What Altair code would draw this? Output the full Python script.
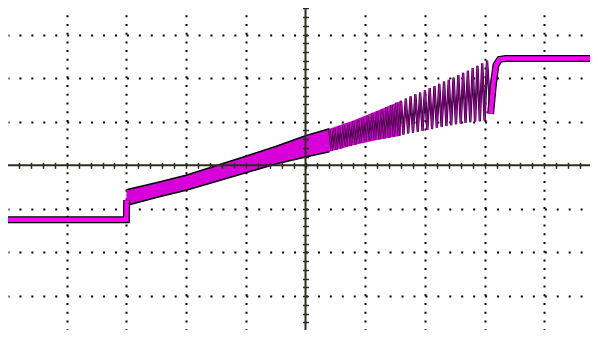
import altair as alt
import pandas as pd

# ---- data: time and amplitude in screen divisions ----
left_t = [-5.0, -3.0, -2.995]
left_v = [-1.25, -1.25, -0.80]

band_t = [-3.0, -2.5, -2.0, -1.5, -1.0, -0.5, 0.0, 0.4, 0.8, 1.2, 1.6]
band_lo = [-0.92, -0.74, -0.57, -0.37, -0.17, 0.03, 0.19, 0.31, 0.46, 0.58, 0.68]
band_hi = [-0.56, -0.40, -0.23, -0.01, 0.21, 0.43, 0.68, 0.84, 1.03, 1.25, 1.48]

ring_t = [0.40, 0.44, 0.48, 0.52, 0.56, 0.60, 0.64, 0.68, 0.72, 0.76, 0.80, 0.84,
          0.88, 0.92, 0.96, 1.00, 1.04, 1.08, 1.12, 1.16, 1.20, 1.24, 1.28, 1.32,
          1.36, 1.40, 1.44, 1.48, 1.52, 1.56, 1.60, 1.64, 1.68, 1.72, 1.76, 1.80,
          1.84, 1.88, 1.92, 1.96, 2.00, 2.04, 2.08, 2.12, 2.16, 2.20, 2.24, 2.28,
          2.32, 2.36, 2.40, 2.44, 2.48, 2.52, 2.56, 2.60, 2.64, 2.68, 2.72, 2.76,
          2.80, 2.84, 2.88, 2.92, 2.96, 3.00, 3.04, 3.10]
ring_v = [0.81, 0.33, 0.85, 0.36, 0.89, 0.39, 0.93, 0.42, 0.97, 0.45, 1.01, 0.48,
          1.05, 0.52, 1.09, 0.55, 1.13, 0.57, 1.18, 0.59, 1.23, 0.60, 1.28, 0.62,
          1.33, 0.64, 1.38, 0.66, 1.43, 0.68, 1.48, 0.70, 1.53, 0.73, 1.58, 0.75,
          1.63, 0.77, 1.67, 0.79, 1.72, 0.81, 1.77, 0.83, 1.82, 0.86, 1.87, 0.88,
          1.92, 0.90, 1.96, 0.92, 2.01, 0.94, 2.07, 0.96, 2.12, 0.97, 2.17, 0.99,
          2.23, 1.00, 2.28, 1.01, 2.34, 1.02, 2.40, 1.18]

right_t = [3.10, 3.15, 3.19, 3.25, 3.35, 4.95]
right_v = [1.18, 1.90, 2.30, 2.43, 2.45, 2.45]

grid_x = [-5, -4, -3, -2, -1, 1, 2, 3, 4, 5]
grid_y = [-4, -3, -2, -1, 1, 2, 3, 4]
minor_ticks = [round(i * 0.2, 1) for i in range(-25, 26)]

XDOM = [-4.983, 4.765]
YDOM = [-3.778, 3.608]
W, H = 582, 322
AXC = "#2c2c22"
MAG = "#ff00ff"

# pixel positions of the centre lines inside the plot area
cx = (0 - XDOM[0]) / (XDOM[1] - XDOM[0]) * W
cy = (YDOM[1] - 0) / (YDOM[1] - YDOM[0]) * H

sx = alt.Scale(domain=XDOM, nice=False, zero=False)
sy = alt.Scale(domain=YDOM, nice=False, zero=False)

left_df = pd.DataFrame({"t": left_t, "v": left_v})
band_df = pd.DataFrame({"t": band_t, "lo": band_lo, "hi": band_hi})
ring_df = pd.DataFrame({"t": ring_t, "v": ring_v})
right_df = pd.DataFrame({"t": right_t, "v": right_v})


def X(field="t", axis=None):
    return alt.X(f"{field}:Q", scale=sx, axis=axis)


def Y(field="v", axis=None):
    return alt.Y(f"{field}:Q", scale=sy, axis=axis)


grid_ax_x = alt.Axis(orient="bottom", values=grid_x, grid=True, gridDash=[2, 6.72],
                     gridDashOffset=0.66, gridColor="black", gridWidth=2, gridOpacity=1,
                     ticks=False, labels=False, domain=False, title=None)
grid_ax_y = alt.Axis(orient="left", values=grid_y, grid=True, gridDash=[2, 9.94],
                     gridDashOffset=1, gridColor="black", gridWidth=2, gridOpacity=1,
                     ticks=False, labels=False, domain=False, title=None)
tick_ax_x = alt.Axis(orient="top", offset=-(cy + 3), values=minor_ticks, grid=False,
                     ticks=True, tickSize=6, tickColor=AXC, tickWidth=1.5,
                     labels=False, domain=False, title=None, zindex=1)
tick_ax_y = alt.Axis(orient="right", offset=-(W - cx + 3), values=minor_ticks, grid=False,
                     ticks=True, tickSize=6, tickColor=AXC, tickWidth=1.5,
                     labels=False, domain=False, title=None, zindex=1)

vrule = alt.Chart(pd.DataFrame({"t": [0]})).mark_rule(color=AXC, strokeWidth=2).encode(
    x=X(axis=grid_ax_x))
hrule = alt.Chart(pd.DataFrame({"v": [0]})).mark_rule(color=AXC, strokeWidth=2).encode(
    y=Y(axis=grid_ax_y))

band_fill = alt.Chart(band_df).mark_area(color="#d800d8", opacity=1).encode(
    x=X(), y=Y("lo"), y2="hi:Q")
band_lo_line = alt.Chart(band_df[band_df.t <= 0.4]).mark_line(color="black", strokeWidth=1.6).encode(
    x=X(), y=Y("lo"))
band_hi_line = alt.Chart(band_df[band_df.t <= 0.4]).mark_line(color="black", strokeWidth=1.6).encode(
    x=X(), y=Y("hi"))

ring_dark = alt.Chart(ring_df).mark_line(color="#140012", strokeWidth=2.3).encode(x=X(), y=Y())
ring_mag = alt.Chart(ring_df).mark_line(color="#c800c8", strokeWidth=0.9).encode(x=X(), y=Y())

left_dark = alt.Chart(left_df).mark_line(color="black", strokeWidth=7).encode(
    x=X(axis=tick_ax_x), y=Y(axis=tick_ax_y))
left_mag = alt.Chart(left_df).mark_line(color=MAG, strokeWidth=4.5).encode(x=X(), y=Y())
right_dark = alt.Chart(right_df).mark_line(color="black", strokeWidth=7).encode(x=X(), y=Y())
right_mag = alt.Chart(right_df).mark_line(color=MAG, strokeWidth=4.5).encode(x=X(), y=Y())

chart = alt.layer(
    band_fill, band_lo_line, band_hi_line, ring_dark, ring_mag,
    left_dark, left_mag, right_dark, right_mag, vrule, hrule
).resolve_axis(x="independent", y="independent").properties(
    width=W, height=H, padding=0, autosize=alt.AutoSizeParams(type="none"),
    background="white"
).configure_view(stroke=None)

chart.save("out.html", embed_options={"renderer": "svg", "actions": False})
